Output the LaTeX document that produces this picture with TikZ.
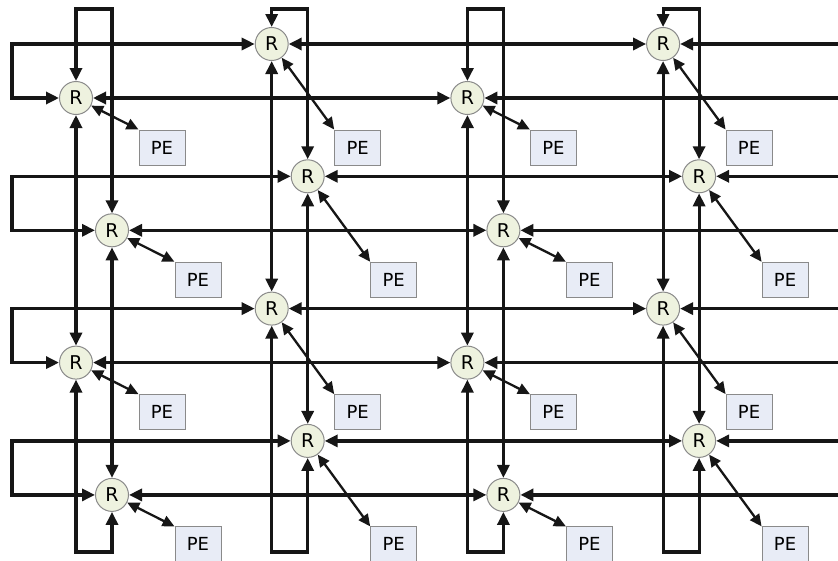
\documentclass[tikz,border=0pt]{standalone}
\usepackage{fontspec}
\setmainfont{DejaVu Sans}
\usetikzlibrary{arrows.meta}

\definecolor{routerfill}{HTML}{EEF2DF}
\definecolor{pefill}{HTML}{E8ECF6}
\definecolor{edgegray}{HTML}{8A8A8A}
\definecolor{wirecol}{HTML}{161616}

\tikzstyle{router} = [circle, draw=edgegray, fill=routerfill, line width=1pt, minimum size=33pt, inner sep=0pt, font=\fontsize{19}{19}\selectfont]
\tikzstyle{pe} = [draw=edgegray, fill=pefill, line width=1pt, minimum width=46pt, minimum height=35pt, inner sep=0pt, font=\fontsize{18}{18}\selectfont]
\tikzstyle{wire} = [draw=wirecol, line width=3.2pt]
\tikzstyle{link} = [wire, {Triangle[length=13pt,width=12pt]}-{Triangle[length=13pt,width=12pt]}]
\tikzstyle{stub} = [wire, {Triangle[length=13pt,width=12pt]}-]
\tikzstyle{pelink} = [draw=wirecol, line width=2.3pt, {Triangle[length=12pt,width=11pt]}-{Triangle[length=12pt,width=11pt]}]

\begin{document}
\begin{tikzpicture}[x=1pt,y=-1pt]
\useasboundingbox (0,0) rectangle (838,560);

\foreach \r in {0,...,3}
  \foreach \c in {0,...,3} {
    \pgfmathsetmacro\xx{76+195.7*\c+36*mod(\r,2)}
    \pgfmathsetmacro\yy{98+132.3*\r-54*mod(\c,2)}
    \pgfmathsetmacro\dy{49.5+54*mod(\c,2)}
    \node[router] (R-\r-\c) at (\xx,\yy) {R};
    \node[pe] (PE-\r-\c) at (\xx+86,\yy+\dy) {PE};
    \draw[pelink] (R-\r-\c) -- (PE-\r-\c.north west);
  }

% rows
\foreach \r in {0,...,3} {
  \draw[link] (R-\r-1.west) -| (12,{98+132.3*\r}) -- (R-\r-0.west);
  \draw[link] (R-\r-0) -- (R-\r-2);
  \draw[link] (R-\r-1) -- (R-\r-3);
  \draw[stub] (R-\r-2.east) -- (838,{98+132.3*\r});
  \draw[stub] (R-\r-3.east) -- (838,{44+132.3*\r});
}

% columns
\foreach \c in {0,...,3} {
  \draw[link] (R-0-\c.north) |- ({112+195.7*\c},9) -- (R-1-\c.north);
  \draw[link] (R-0-\c) -- (R-2-\c);
  \draw[link] (R-1-\c) -- (R-3-\c);
  \draw[link] (R-2-\c.south) |- ({112+195.7*\c},552) -- (R-3-\c.south);
}
\end{tikzpicture}
\end{document}
